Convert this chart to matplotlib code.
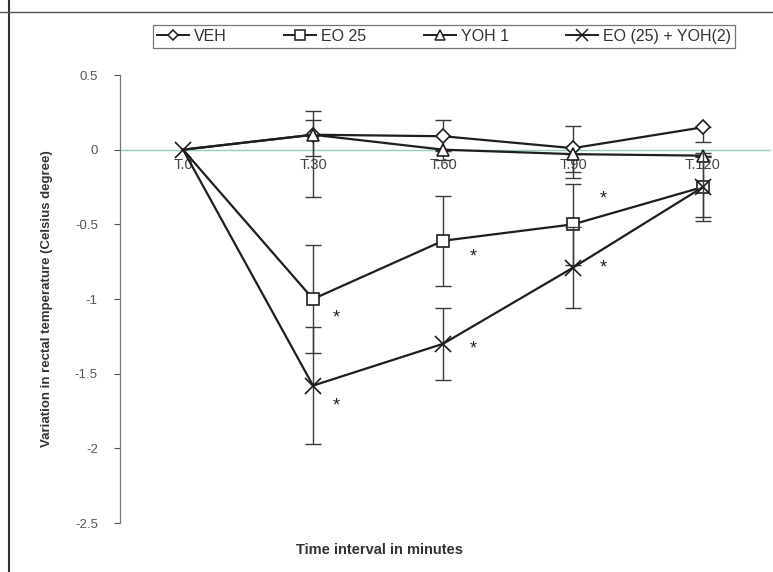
import numpy as np
import matplotlib
matplotlib.use("Agg")
import matplotlib.pyplot as plt
from matplotlib.lines import Line2D

plt.rcParams['font.family'] = ['Liberation Sans', 'DejaVu Sans']

times = ["T.0", "T.30", "T.60", "T.90", "T.120"]

veh = [0.0, 0.10, 0.09, 0.01, 0.15]
veh_lo = [0.0, 0.14, 0.10, 0.16, 0.10]
veh_hi = [0.0, 0.16, 0.11, 0.15, 0.0]

eo25 = [0.0, -1.00, -0.61, -0.50, -0.25]
eo25_err = [0.0, 0.36, 0.30, 0.27, 0.20]

yoh1 = [0.0, 0.10, 0.00, -0.03, -0.04]
yoh1_lo = [0.0, 0.42, 0.07, 0.16, 0.0]
yoh1_hi = [0.0, 0.10, 0.0, 0.0, 0.0]

combo = [0.0, -1.58, -1.30, -0.79, -0.25]
combo_err = [0.0, 0.39, 0.24, 0.27, 0.23]

eo25_sig = [1, 2, 3]
combo_sig = [1, 2, 3]

fig = plt.figure(figsize=(7.73, 5.72), dpi=100)
ax = fig.add_axes([120 / 773, 1 - 523 / 572, 650 / 773, 448 / 572])

x = np.arange(len(times))
line_col = "#1e1e1e"
err_col = "#3a3a3a"
handles = []

def draw(vals, lo, hi, marker, ms, label, z, mark_first=False):
    v = np.asarray(vals)
    ax.errorbar(x[1:], v[1:], yerr=[np.asarray(lo)[1:], np.asarray(hi)[1:]],
                fmt="none", ecolor=err_col, elinewidth=1.0, capsize=6,
                capthick=1.0, zorder=z)
    ax.plot(x, v, color=line_col, lw=1.6, zorder=z + 1)
    start = 0 if mark_first else 1
    ax.plot(x[start:], v[start:], ls="none", marker=marker, ms=ms,
            mfc="white", mec=line_col, mew=1.2, zorder=z + 2)
    handles.append(Line2D([], [], color=line_col, lw=1.4, marker=marker,
                          ms=ms * 0.8, mfc="white", mec=line_col, mew=1.1,
                          label=label))

draw(veh, veh_lo, veh_hi, "D", 7, "VEH", 3)
draw(eo25, eo25_err, eo25_err, "s", 8.5, "EO 25", 6)
draw(yoh1, yoh1_lo, yoh1_hi, "^", 9, "YOH 1", 9)
draw(combo, combo_err, combo_err, "x", 11, "EO (25) + YOH(2)", 12, mark_first=True)

# significance stars
star_off = {("eo", 1): (17, -14), ("eo", 2): (22, -12), ("eo", 3): (22, 18),
            ("co", 1): (17, -15), ("co", 2): (22, -4), ("co", 3): (22, 0)}
for i in eo25_sig:
    ax.annotate("*", (x[i], eo25[i]), xytext=star_off[("eo", i)],
                textcoords="offset points", ha="center", va="center",
                fontsize=13, color="#222")
for i in combo_sig:
    ax.annotate("*", (x[i], combo[i]), xytext=star_off[("co", i)],
                textcoords="offset points", ha="center", va="center",
                fontsize=13, color="#222")

ax.set_xlim(-0.485, 4.515)
ax.set_ylim(-2.5, 0.5)
ax.set_yticks([0.5, 0, -0.5, -1, -1.5, -2, -2.5])
ax.set_yticklabels(["0.5", "0", "-0.5", "-1", "-1.5", "-2", "-2.5"])
ax.tick_params(axis="y", direction="out", length=4, width=0.8,
               colors="#555", labelsize=9.5, pad=12)

ax.spines["top"].set_visible(False)
ax.spines["right"].set_visible(False)
ax.spines["left"].set_color("#777")
ax.spines["left"].set_linewidth(0.9)
ax.spines["bottom"].set_position(("data", 0))
ax.spines["bottom"].set_color("#8fcfc4")
ax.spines["bottom"].set_linewidth(1.0)
ax.spines["bottom"].set_zorder(1)
ax.set_xticks(x)
ax.set_xticklabels(times)
ax.tick_params(axis="x", length=0, labelsize=10.5, colors="#444", pad=6)

ax.set_ylabel("Variation in rectal temperature (Celsius degree)",
              fontsize=9.5, color="#333", fontweight="bold", labelpad=16)
fig.text(380 / 773, 1 - 550 / 572, "Time interval in minutes",
         ha="center", va="center", fontsize=10.5, color="#333", fontweight="bold")

leg = fig.legend(handles=handles, loc="lower left",
                 bbox_to_anchor=(153 / 773, 1 - 48 / 572, 582 / 773, 26 / 572),
                 mode="expand", ncol=4, frameon=True, fancybox=False,
                 fontsize=11.5, handlelength=2.0, handletextpad=0.3,
                 columnspacing=0.4, borderpad=0.25, borderaxespad=0,
                 edgecolor="#555")
leg.get_frame().set_linewidth(0.9)
for t in leg.get_texts():
    t.set_color("#333")

# page border lines
fig.add_artist(Line2D([9 / 773, 9 / 773], [0, 1], transform=fig.transFigure,
                      color="#333", lw=1.5))
fig.add_artist(Line2D([0, 1], [1 - 12 / 572, 1 - 12 / 572], transform=fig.transFigure,
                      color="#555", lw=1.0))

fig.savefig("out.png", dpi=100)
